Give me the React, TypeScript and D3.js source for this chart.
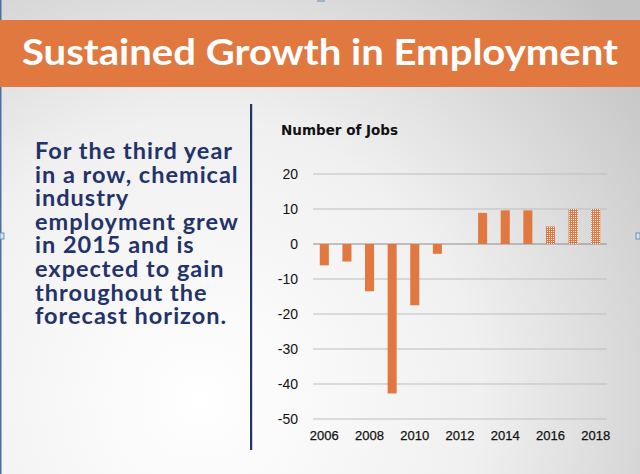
import React from "react";
import * as d3 from "d3";

const years = [2006, 2007, 2008, 2009, 2010, 2011, 2012, 2013, 2014, 2015, 2016, 2017, 2018];
const jobs = [-6.1, -5, -13.5, -42.7, -17.5, -2.8, 0, 8.9, 9.6, 9.6, 5, 10, 10];
const forecast = [false, false, false, false, false, false, false, false, false, false, true, true, true];
const yTicks = [20, 10, 0, -10, -20, -30, -40, -50];
const xTickYears = [2006, 2008, 2010, 2012, 2014, 2016, 2018];
const titleText = "Sustained Growth in Employment";
const bodyLines = [
  "For the third year",
  "in a row, chemical",
  "industry",
  "employment grew",
  "in 2015 and is",
  "expected to gain",
  "throughout the",
  "forecast horizon.",
];
const axisTitle = "Number of Jobs";

const W = 640;
const H = 474;
const ORANGE = "#e07840";
const NAVY = "#24326a";

export default function App() {
  const x = d3
    .scaleBand<number>()
    .domain(years)
    .range([313, 607])
    .paddingInner(0.6)
    .paddingOuter(0.3);
  const y = d3.scaleLinear().domain([-50, 20]).range([419, 174]);

  return (
    <svg
      width={W}
      height={H}
      style={{ position: "absolute", left: 0, top: 0, display: "block" }}
    >
      <defs>
        <radialGradient id="bg" cx="200" cy="400" r="560" gradientUnits="userSpaceOnUse">
          <stop offset="0" stopColor="#ffffff" />
          <stop offset="0.5" stopColor="#f0f0f0" />
          <stop offset="1" stopColor="#c4c4c4" />
        </radialGradient>
        <pattern id="dots" width="2" height="2" patternUnits="userSpaceOnUse">
          <rect width="2" height="2" fill={ORANGE} />
          <rect x="1" y="1" width="1" height="1" fill="#ffffff" />
        </pattern>
      </defs>
      <rect width={W} height={H} fill="url(#bg)" />
      <rect x={0} y={0} width={1.5} height={H} fill="#4a6fa5" />
      {/* selection handles */}
      <rect x={0} y={233} width={4} height={6} fill="#cfe6f2" stroke="#6f8fb5" strokeWidth={1} />
      <rect x={636} y={233} width={4} height={6} fill="#cfe6f2" stroke="#6f8fb5" strokeWidth={1} />
      <rect x={317} y={0} width={8} height={2} fill="#9fb3cc" />

      {/* Banner */}
      <rect x={0} y={20} width={W} height={67} fill={ORANGE} />
      <text
        x={22}
        y={65}
        fill="#ffffff"
        fontFamily="Lato, 'Open Sans', sans-serif"
        fontWeight={700}
        fontSize={36}
        textLength={596}
        lengthAdjust="spacingAndGlyphs"
      >
        {titleText}
      </text>

      {/* Body text */}
      {bodyLines.map((line, i) => (
        <text
          key={i}
          x={35}
          y={159 + i * 23.6}
          fill={NAVY}
          fontFamily="Lato, 'Open Sans', sans-serif"
          fontWeight={700}
          fontSize={23.5}
          letterSpacing={1}
        >
          {line}
        </text>
      ))}

      {/* Divider */}
      <rect x={250} y={104} width={2.2} height={346} fill={NAVY} />

      {/* Chart */}
      <text
        x={281}
        y={135}
        fill="#111"
        fontFamily="'DejaVu Sans', Verdana, sans-serif"
        fontWeight={700}
        fontSize={13.5}
      >
        {axisTitle}
      </text>

      {yTicks.map((t) => (
        <g key={t}>
          <line
            x1={313}
            x2={607}
            y1={y(t)}
            y2={y(t)}
            stroke={t === 0 ? "#8c8c8c" : "#bdbdbd"}
            strokeWidth={t === 0 ? 1.2 : 1}
          />
          <text
            x={298}
            y={y(t)}
            dy="0.36em"
            textAnchor="end"
            fill="#111"
            fontFamily="'Liberation Sans', Arial, sans-serif"
            fontSize={14}
          >
            {t}
          </text>
        </g>
      ))}

      {years.map((yr, i) => {
        const v = jobs[i];
        if (v === 0) return null;
        const y0 = y(0);
        const y1 = y(v);
        return (
          <rect
            key={yr}
            x={x(yr)}
            width={x.bandwidth()}
            y={Math.min(y0, y1)}
            height={Math.abs(y1 - y0)}
            fill={forecast[i] ? "url(#dots)" : ORANGE}
          />
        );
      })}

      {xTickYears.map((yr) => (
        <text
          key={yr}
          x={(x(yr) as number) + x.bandwidth() / 2}
          y={440}
          textAnchor="middle"
          fill="#111"
          fontFamily="'Liberation Sans', Arial, sans-serif"
          fontSize={13}
          stroke="#111"
          strokeWidth={0.25}
        >
          {yr}
        </text>
      ))}
    </svg>
  );
}
